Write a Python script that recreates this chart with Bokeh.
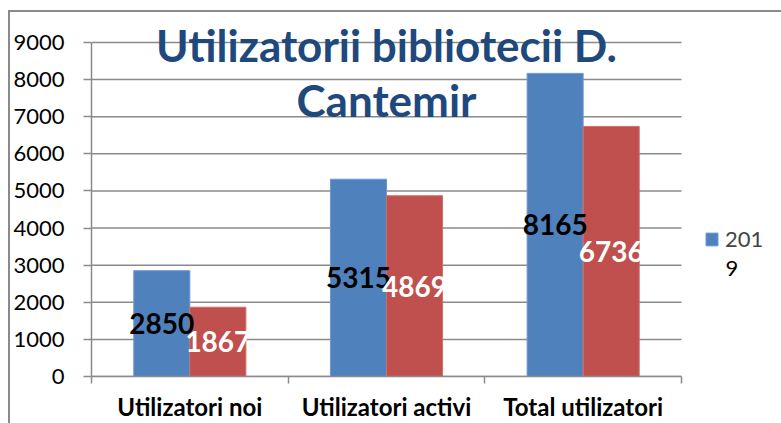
import numpy as np
from bokeh.plotting import figure
from bokeh.models import (Range1d, FixedTicker, LinearAxis, Label, Legend, LegendItem,
                          ColumnDataSource, CustomJSTickFormatter)
from bokeh.core.properties import value
from bokeh.embed import file_html
from bokeh.resources import INLINE

# ---- data ----
categories = ["Utilizatori noi", "Utilizatori activi", "Total utilizatori"]
series_a = [2850, 5315, 8165]          # blue series (legend "2019")
series_b = [1867, 4869, 6736]          # red series
series_a_name = "2019"
y_ticks = [0, 1000, 2000, 3000, 4000, 5000, 6000, 7000, 8000, 9000]
title_lines = ["Utilizatorii bibliotecii D.", "Cantemir"]

# ---- style / layout ----
BLUE = "#4F81BD"
RED = "#C0504D"
GRAY = "#8a8a8a"
TITLE_C = "#1F497D"
FONT = "Lato"
W, H = 781, 423
PLOT_L, PLOT_R, PLOT_T, PLOT_B = 91, 681, 42, 377   # plot-area box in pixels

n = len(categories)
centers = np.arange(n) + 0.5
bar_w = 0.285
px_per_x = (PLOT_R - PLOT_L) / n
px_per_y = (PLOT_B - PLOT_T) / y_ticks[-1]


def ypix(py, font_px=0):
    # pixel row (from top) -> data y; Label baselines sit ~0.42em low, compensate
    return (PLOT_B - py + 0.42 * font_px) / px_per_y


src = ColumnDataSource(dict(
    xa=centers - bar_w / 2, xb=centers + bar_w / 2,
    a=series_a, b=series_b,
    ma=np.array(series_a) / 2, mb=np.array(series_b) / 2,
    la=[str(v) for v in series_a], lb=[str(v) for v in series_b],
))

p = figure(width=W, height=H,
           x_range=Range1d(0, n + (W - PLOT_R) / px_per_x),
           y_range=Range1d(0, PLOT_B / px_per_y),
           output_backend="svg", toolbar_location=None, x_axis_type=None, y_axis_type=None,
           min_border_left=PLOT_L, min_border_right=0, min_border_top=0,
           min_border_bottom=H - PLOT_B)
p.outline_line_color = None
p.background_fill_alpha = 0
p.border_fill_alpha = 0
p.styles = {"background": (f"linear-gradient({GRAY},{GRAY}) 8px 10px / 2px 100% no-repeat, "
                           f"linear-gradient({GRAY},{GRAY}) 8px 10px / 100% 2px no-repeat, white")}

# y axis
yax = LinearAxis(ticker=FixedTicker(ticks=y_ticks), bounds=(y_ticks[0], y_ticks[-1]))
yax.axis_line_color = GRAY
yax.axis_line_width = 1.5
yax.major_tick_line_color = GRAY
yax.major_tick_line_width = 1.5
yax.major_tick_out = 8
yax.major_tick_in = 0
yax.minor_tick_line_color = None
yax.major_label_standoff = 19
yax.major_label_text_font = FONT
yax.major_label_text_font_size = "22px"
yax.major_label_text_color = "black"
p.add_layout(yax, "left")

# x axis: labels at category centres, tick marks at category boundaries
xax = LinearAxis(ticker=FixedTicker(ticks=list(centers), minor_ticks=list(range(n + 1))),
                 bounds=(0, n))
xax.formatter = CustomJSTickFormatter(args=dict(labels=categories),
                                      code="return labels[Math.floor(tick)];")
xax.axis_line_color = GRAY
xax.axis_line_width = 1.5
xax.major_tick_line_color = None
xax.major_tick_out = 0
xax.major_tick_in = 0
xax.minor_tick_line_color = GRAY
xax.minor_tick_line_width = 1.5
xax.minor_tick_out = 7
xax.minor_tick_in = 0
xax.major_label_standoff = 8
xax.major_label_text_font = FONT
xax.major_label_text_font_style = "bold"
xax.major_label_text_font_size = "24px"
xax.major_label_text_color = "black"
p.add_layout(xax, "below")

# horizontal gridlines over the category span only
p.segment(x0=0, x1=n, y0=y_ticks, y1=y_ticks, line_color=GRAY, line_width=1.5)

# bars
ra = p.vbar(x="xa", top="a", bottom=0, width=bar_w, source=src, fill_color=BLUE,
            line_color="#6f97cc", line_width=1)
rb = p.vbar(x="xb", top="b", bottom=0, width=bar_w, source=src, fill_color=RED,
            line_color="#cf6f6c", line_width=1)

# data labels
p.text(x="xa", y="ma", text="la", source=src, text_font=value(FONT), text_font_style="bold",
       text_font_size="28px", text_align="center", text_baseline="middle", text_color="black")
p.text(x="xb", y="mb", text="lb", source=src, text_font=value(FONT), text_font_style="bold",
       text_font_size="28px", text_align="center", text_baseline="middle", text_color="white")

# title (two lines)
TS = 44
p.add_layout(Label(x=n / 2, y=ypix(63, TS), text=title_lines[0], text_align="center",
                   text_baseline="alphabetic", text_font=FONT, text_font_style="bold",
                   text_font_size=f"{TS}px", text_color=TITLE_C))
p.add_layout(Label(x=n / 2, y=ypix(118, TS), text=title_lines[1], text_align="center",
                   text_baseline="alphabetic", text_font=FONT, text_font_style="bold",
                   text_font_size=f"{TS}px", text_color=TITLE_C))

# legend: "2019" wrapped as "201" / "9"
legend = Legend(items=[LegendItem(label=series_a_name[:3], renderers=[ra])],
                location=(704 - PLOT_L, 124), border_line_color=None, background_fill_alpha=0,
                padding=0, margin=0, glyph_width=15, glyph_height=16, label_standoff=6,
                label_text_font=FONT, label_text_font_size="22px", spacing=0)
p.add_layout(legend)
p.add_layout(Label(x=(725 - PLOT_L) / px_per_x, y=ypix(278, 22),
                   text=series_a_name[3:], text_align="left", text_baseline="alphabetic",
                   text_font=FONT, text_font_size="22px", text_color="black"))

open("out.html", "w").write(file_html(p, INLINE))
